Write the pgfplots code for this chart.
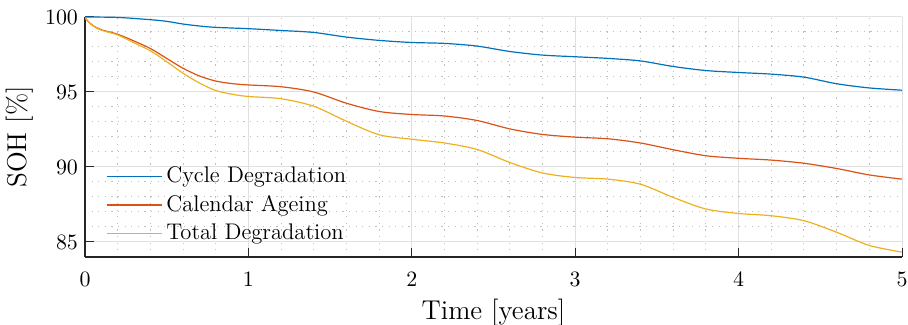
\documentclass[border=0pt]{standalone}
\usepackage{pgfplots}
\pgfplotsset{compat=1.18}
\definecolor{mblue}{rgb}{0,0.447,0.741}
\definecolor{morange}{rgb}{0.85,0.325,0.098}
\definecolor{myellow}{rgb}{0.929,0.694,0.125}
\definecolor{axgray}{rgb}{0.15,0.15,0.15}
\begin{document}
\begin{tikzpicture}
\begin{axis}[
  at={(0,0)}, anchor=south west,
  scale only axis, width=408.5pt, height=120pt,
  xmin=0, xmax=5, ymin=84, ymax=100,
  xtick={0,1,2,3,4,5}, ytick={85,90,95,100},
  minor x tick num=4, minor y tick num=4,
  grid=both,
  major grid style={black!12, line width=0.5pt},
  minor grid style={black!25, dash pattern=on 0.6pt off 2.7pt, line width=0.5pt},
  axis lines=left, axis line style={-, axgray, line width=0.6pt},
  tick align=inside, major tick length=4.5pt, minor tick length=0pt,
  tick style={axgray, line width=0.5pt},
  tick label style={font=\fontsize{11.3}{13}\selectfont},
  xticklabel style={anchor=base, yshift=-15pt},
  xlabel={Time [years]}, ylabel={SOH [\%]},
  label style={font=\fontsize{13.6}{15}\selectfont},
  xlabel style={at={(axis description cs:0.5,-0.2625)}, anchor=base},
  ylabel style={at={(axis description cs:-0.071,0.5)}, anchor=base},
  legend style={draw=none, fill=none, at={(0.018,0.41)}, anchor=north west,
    font=\fontsize{11.3}{13}\selectfont, row sep=0.75pt},
  legend cell align=left,
  legend image code/.code={\draw[#1, line width=0.6pt, sharp plot] (0pt,0pt) -- (27.5pt,0pt);},
  every axis plot/.append style={line width=0.6pt, smooth},
]
\addplot[mblue] coordinates {
(0,100) (0.2,99.97) (0.4,99.82) (0.5,99.71) (0.6,99.53) (0.7,99.4) (0.8,99.31) (1.0,99.22) (1.2,99.1)
(1.4,98.97) (1.6,98.66) (1.8,98.44) (2.0,98.3) (2.2,98.24) (2.4,98.06)
(2.6,97.7) (2.8,97.46) (3.0,97.35) (3.2,97.24) (3.4,97.07) (3.6,96.7)
(3.8,96.43) (4.0,96.3) (4.2,96.19) (4.4,95.99) (4.6,95.55) (4.8,95.27) (5.0,95.12)};
\addlegendentry{Cycle Degradation}
\addplot[morange] coordinates {
(0,99.95) (0.02,99.7) (0.05,99.42) (0.1,99.15) (0.2,98.85) (0.3,98.4) (0.4,97.9)
(0.5,97.24) (0.6,96.58) (0.7,96.07) (0.8,95.73) (0.9,95.56) (1.0,95.47)
(1.2,95.35) (1.4,95.0) (1.6,94.25) (1.8,93.7) (2.0,93.5) (2.2,93.4) (2.4,93.1)
(2.6,92.54) (2.8,92.17) (3.0,91.99) (3.2,91.88) (3.4,91.6) (3.6,91.15)
(3.8,90.75) (4.0,90.58) (4.2,90.46) (4.4,90.25) (4.6,89.9) (4.8,89.47) (5.0,89.19)};
\addlegendentry{Calendar Ageing}
\addplot[myellow] coordinates {
(0,99.95) (0.02,99.7) (0.05,99.4) (0.1,99.12) (0.2,98.8) (0.3,98.28) (0.4,97.75)
(0.5,97.02) (0.6,96.25) (0.7,95.6) (0.8,95.1) (0.9,94.85) (1.0,94.7)
(1.2,94.55) (1.4,94.05) (1.6,93.05) (1.8,92.15) (2.0,91.85) (2.2,91.6) (2.4,91.17)
(2.6,90.3) (2.8,89.6) (3.0,89.3) (3.2,89.19) (3.4,88.85) (3.6,87.97)
(3.8,87.2) (4.0,86.9) (4.2,86.75) (4.4,86.42) (4.6,85.65) (4.8,84.77) (5.0,84.33)};
\addlegendentry{Total Degradation}
\end{axis}
\pgfresetboundingbox
\useasboundingbox (-42.5pt,-34pt) rectangle (411.5pt,128.5pt);
\end{tikzpicture}
\end{document}
